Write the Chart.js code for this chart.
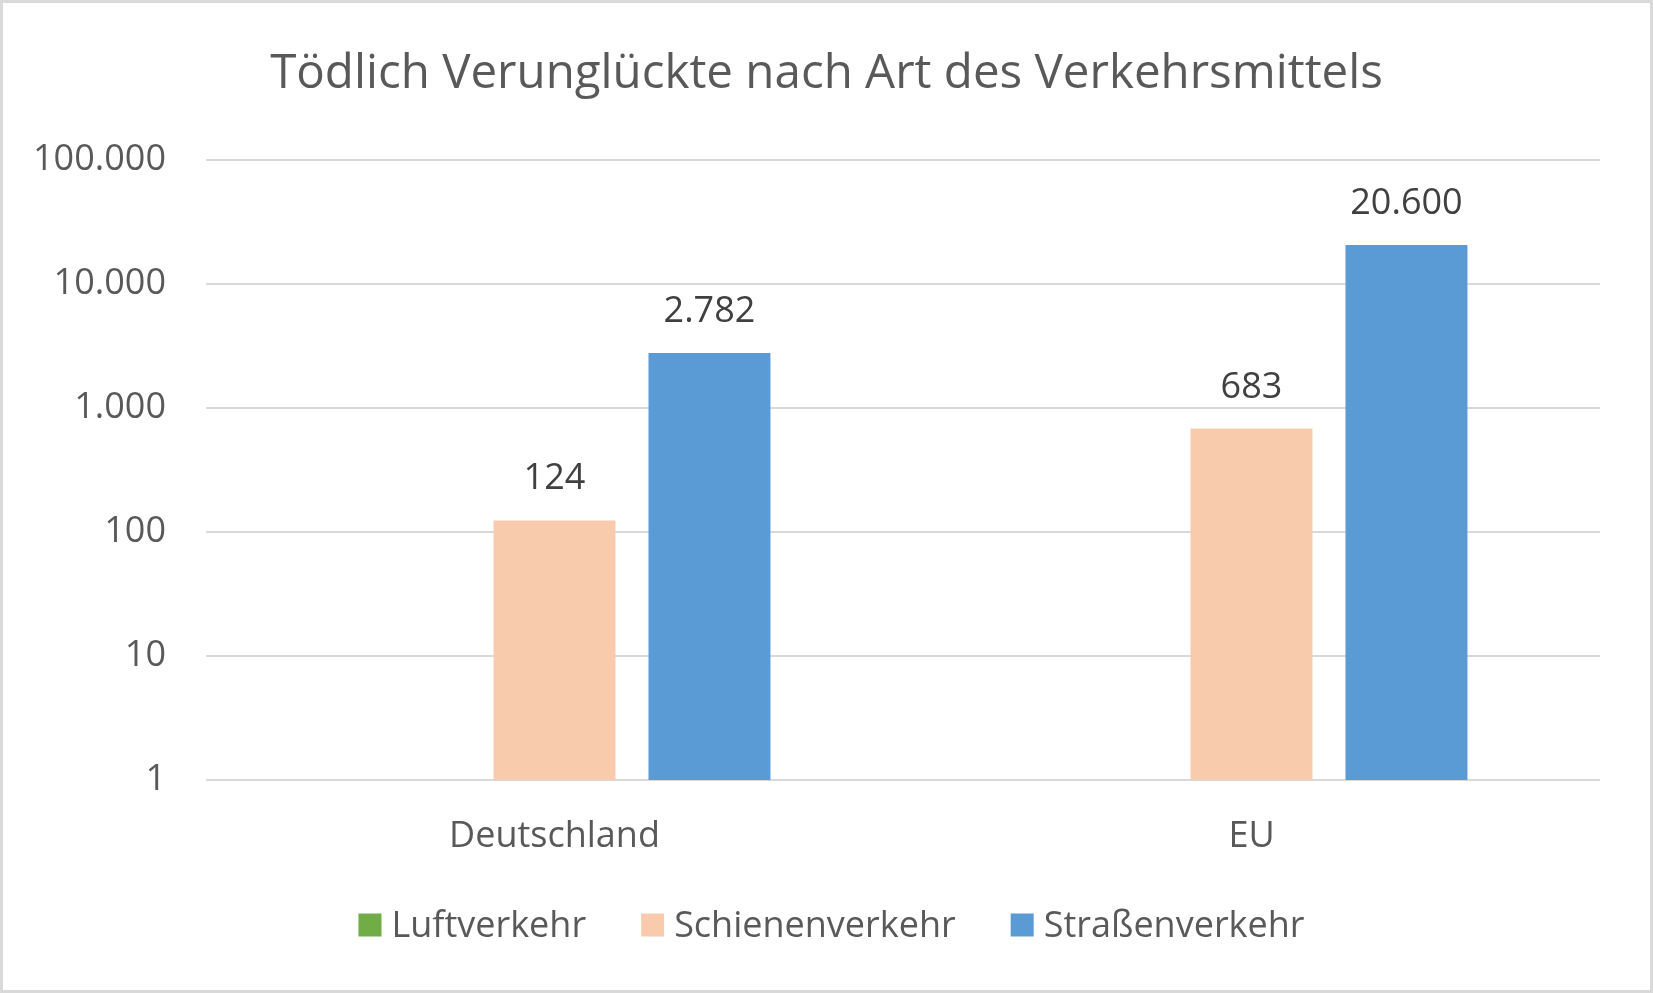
<!DOCTYPE html>
<html>
<head>
<meta charset="utf-8">
<script src="https://cdn.jsdelivr.net/npm/chart.js@4/dist/chart.umd.min.js"></script>
<style>
  html, body { margin: 0; padding: 0; background: #ffffff; }
  #wrap { width: 1653px; height: 993px; position: relative; }
</style>
</head>
<body>
<div id="wrap"><canvas id="c" width="1653" height="993"></canvas></div>
<script>
const titleText = 'Tödlich Verunglückte nach Art des Verkehrsmittels';
const categories = ['Deutschland', 'EU'];
const seriesNames = ['Luftverkehr', 'Schienenverkehr', 'Straßenverkehr'];
const luftverkehr = [null, null];
const schienenverkehr = [124, 683];
const strassenverkehr = [2782, 20600];
const valueLabels = [[], ['124', '683'], ['2.782', '20.600']];
const yTickValues = [1, 10, 100, 1000, 10000, 100000];
const yTickLabels = ['1', '10', '100', '1.000', '10.000', '100.000'];
const colors = ['#70AD47', '#F8CBAD', '#5B9BD5'];

const FONT = '"Open Sans", "Noto Sans", sans-serif';

const decorPlugin = {
  id: 'decor',
  beforeDraw(chart) {
    const ctx = chart.ctx;
    ctx.save();
    ctx.fillStyle = '#ffffff';
    ctx.fillRect(0, 0, chart.width, chart.height);
    ctx.restore();
  },
  afterDraw(chart) {
    const ctx = chart.ctx;
    ctx.save();
    // border
    ctx.strokeStyle = '#d9d9d9';
    ctx.lineWidth = 3;
    ctx.strokeRect(1.5, 1.5, chart.width - 3, chart.height - 3);
    // title
    ctx.fillStyle = '#595959';
    ctx.font = '47.5px ' + FONT;
    ctx.textAlign = 'center';
    ctx.textBaseline = 'alphabetic';
    ctx.fillText(titleText, chart.width / 2, 88);
    // data labels
    ctx.font = '36px ' + FONT;
    ctx.fillStyle = '#404040';
    chart.data.datasets.forEach((ds, di) => {
      const meta = chart.getDatasetMeta(di);
      meta.data.forEach((bar, i) => {
        const lbl = valueLabels[di][i];
        if (!lbl || ds.data[i] == null) return;
        ctx.fillText(lbl, bar.x, bar.y - 31);
      });
    });
    // legend
    ctx.font = '36px ' + FONT;
    ctx.textAlign = 'left';
    const box = 23, gapText = 10, gapItem = 55;
    const widths = seriesNames.map(n => ctx.measureText(n).width);
    let total = 0;
    widths.forEach((w, i) => { total += box + gapText + w + (i < widths.length - 1 ? gapItem : 0); });
    let x = chart.width / 2 - total / 2 + 5;
    const baseY = 937;
    seriesNames.forEach((n, i) => {
      ctx.fillStyle = colors[i];
      ctx.fillRect(x, 913.5, box, box);
      ctx.fillStyle = '#595959';
      ctx.fillText(n, x + box + gapText, baseY);
      x += box + gapText + widths[i] + gapItem;
    });
    ctx.restore();
  }
};

new Chart(document.getElementById('c'), {
  type: 'bar',
  data: {
    labels: categories,
    datasets: [
      { label: seriesNames[0], data: luftverkehr, backgroundColor: colors[0] },
      { label: seriesNames[1], data: schienenverkehr, backgroundColor: colors[1] },
      { label: seriesNames[2], data: strassenverkehr, backgroundColor: colors[2] }
    ]
  },
  options: {
    responsive: false,
    animation: false,
    devicePixelRatio: 1,
    categoryPercentage: 0.667,
    barPercentage: 0.787,
    layout: { padding: { top: 160, right: 53, bottom: 0, left: 0 } },
    plugins: {
      legend: { display: false },
      title: { display: false },
      tooltip: { enabled: false }
    },
    scales: {
      x: {
        grid: { display: false },
        border: { display: false },
        ticks: { font: { family: FONT, size: 36 }, color: '#595959', padding: 27 },
        afterFit(scale) { scale.height = 213; }
      },
      y: {
        type: 'logarithmic',
        min: 1,
        max: 100000,
        grid: { color: '#d9d9d9', lineWidth: 2, drawTicks: false },
        border: { display: false },
        afterBuildTicks(scale) { scale.ticks = yTickValues.map(v => ({ value: v, major: true })); },
        ticks: {
          font: { family: FONT, size: 36 },
          color: '#595959',
          padding: 40,
          autoSkip: false,
          callback(value) { const i = yTickValues.indexOf(value); return i >= 0 ? yTickLabels[i] : ''; }
        },
        afterFit(scale) { scale.width = 206; }
      }
    }
  },
  plugins: [decorPlugin]
});
</script>
</body>
</html>
